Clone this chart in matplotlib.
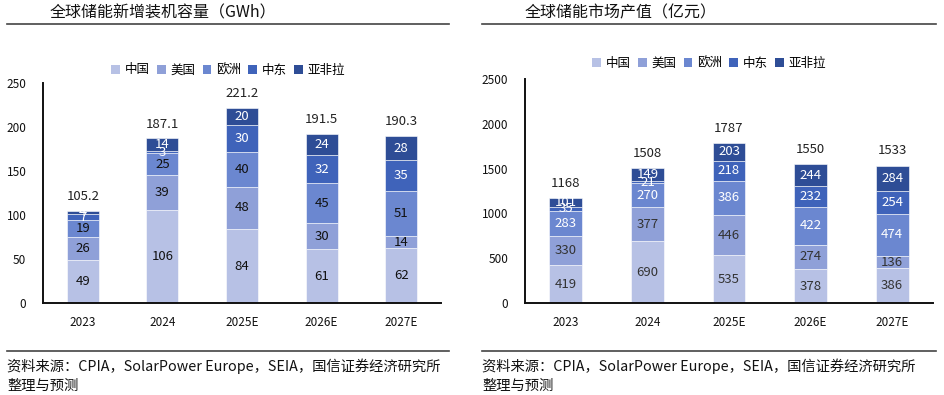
import matplotlib
matplotlib.use("Agg")
import matplotlib.pyplot as plt
import numpy as np
from matplotlib.patches import Patch
from matplotlib.lines import Line2D

plt.rcParams['font.family'] = ['Noto Sans CJK SC', 'DejaVu Sans']

# ── Data ─────────────────────────────────────────────────────────────────────
years = ["2023", "2024", "2025E", "2026E", "2027E"]
regions = ["中国", "美国", "欧洲", "中东", "亚非拉"]

# 全球储能新增装机容量（GWh）
cap_china = [49, 106, 84, 61, 62]
cap_us = [26, 39, 48, 30, 14]
cap_eu = [19, 25, 40, 45, 51]
cap_me = [7, 3, 30, 32, 35]
cap_other = [4, 14, 20, 24, 28]
cap_total = ["105.2", "187.1", "221.2", "191.5", "190.3"]

# 全球储能市场产值（亿元）
val_china = [419, 690, 535, 378, 386]
val_us = [330, 377, 446, 274, 136]
val_eu = [283, 270, 386, 422, 474]
val_me = [35, 21, 218, 232, 254]
val_other = [101, 149, 203, 244, 284]
val_total = ["1168", "1508", "1787", "1550", "1533"]

colors = ["#b7c1e5", "#8fa0d8", "#6b87d0", "#3f63ba", "#2e4d96"]


def draw_panel(ax, series, totals, ymax, ystep, label_colors, total_pad):
    x = np.arange(len(years))
    bottom = np.zeros(len(years))
    for vals, col, tc in zip(series, colors, label_colors):
        vals = np.array(vals, dtype=float)
        ax.bar(x, vals, 0.4, bottom=bottom, color=col,
               edgecolor="white", linewidth=0.4, zorder=2)
        for xi, b, v in zip(x, bottom, vals):
            ax.text(xi, b + v / 2, f"{v:.0f}", ha="center", va="center",
                    fontsize=9.5, color=tc, zorder=3)
        bottom += vals
    for xi, top, t in zip(x, bottom, totals):
        ax.text(xi, top + total_pad, t, ha="center", va="bottom",
                fontsize=9.5, color="#222222")
    ax.set_xlim(-0.5, len(years) - 0.5)
    ax.set_ylim(0, ymax)
    ax.set_yticks(np.arange(0, ymax + 1, ystep))
    ax.set_xticks(x)
    ax.set_xticklabels(years)
    for s in ("top", "right"):
        ax.spines[s].set_visible(False)
    for s in ("left", "bottom"):
        ax.spines[s].set_linewidth(1.4)
        ax.spines[s].set_color("#111111")
    ax.tick_params(length=0, labelsize=8.5, colors="#111111")
    ax.tick_params(axis="x", pad=9)
    ax.tick_params(axis="y", pad=12)


fig = plt.figure(figsize=(9.45, 3.95), dpi=100)
W, H = 945, 395

ax1 = fig.add_axes([43 / W, 1 - 303 / H, 398 / W, 220 / H])
draw_panel(ax1, [cap_china, cap_us, cap_eu, cap_me, cap_other], cap_total,
           250, 50, ["#111111", "#111111", "#111111", "white", "white"], 9)

ax2 = fig.add_axes([525 / W, 1 - 303 / H, 408 / W, 224 / H])
draw_panel(ax2, [val_china, val_us, val_eu, val_me, val_other], val_total,
           2500, 500, ["#333333", "#333333", "white", "white", "white"], 90)

handles = [Patch(facecolor=c, edgecolor="none") for c in colors]
for cx, cy in ((228, 70), (709, 63)):
    fig.legend(handles, regions, loc="center", ncol=5,
               bbox_to_anchor=(cx / W, 1 - cy / H), frameon=False,
               fontsize=9, handlelength=0.7, handleheight=0.7,
               handletextpad=0.35, columnspacing=0.6)

# titles, rules and source notes
titles = ["全球储能新增装机容量（GWh）", "全球储能市场产值（亿元）"]
for x0, x1, title in ((7, 449, titles[0]), (482, 936, titles[1])):
    fig.text((x0 + 43) / W, 1 - 13 / H, title, fontsize=11.5,
             fontweight="medium", ha="left", va="center", color="#111111")
    fig.add_artist(Line2D([x0 / W, x1 / W], [1 - 24 / H] * 2,
                          color="#444444", linewidth=1.2))
    fig.add_artist(Line2D([x0 / W, x1 / W], [1 - 351 / H] * 2,
                          color="#444444", linewidth=1.2))
    fig.text(x0 / W, 1 - 366 / H,
             "资料来源：CPIA，SolarPower Europe，SEIA，国信证券经济研究所",
             fontsize=10.3, ha="left", va="center", color="#111111")
    fig.text(x0 / W, 1 - 386 / H, "整理与预测",
             fontsize=10.3, ha="left", va="center", color="#111111")

fig.savefig("out.png", dpi=100)
